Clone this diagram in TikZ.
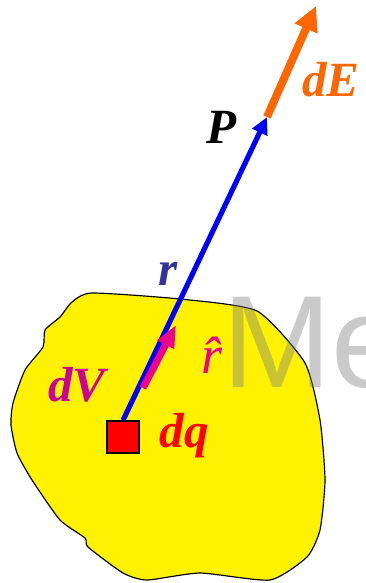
\documentclass[tikz,border=0pt]{standalone}
\usepackage{fontspec}
\setmainfont{Liberation Serif}
\newfontfamily\wmfont{Liberation Sans}
\usetikzlibrary{arrows.meta}
\definecolor{fieldorange}{RGB}{255,102,0}
\definecolor{rnavy}{RGB}{51,51,153}
\definecolor{volpurple}{RGB}{204,0,153}

\begin{document}
\begin{tikzpicture}[x=0.03cm,y=-0.03cm,
 lbl/.style={font=\fontsize{42}{42}\selectfont\bfseries\itshape,inner sep=0pt},
 charge/.style={draw=black,line width=1.5pt,fill=red,minimum size=27pt,inner sep=0pt},
 rvec/.style={blue,line width=4.4pt,-{Triangle[length=14.5pt,width=13.6pt]}},
 evec/.style={fieldorange,line width=6.8pt,-{Triangle[length=21pt,width=20pt]}},
 unitvec/.style={magenta,line width=6pt,-{Triangle[length=19pt,width=15pt]}}
]
\useasboundingbox (0,0) rectangle (366,583);
% charged body
\draw[black,line width=1pt,fill=yellow] plot[smooth cycle,tension=0.35] coordinates {
 (92,293) (180,299) (257,311) (305,363) (320,420) (325,480) (320,530) (307,557)
 (270,580) (200,573) (147,580) (123,573) (88,547) (85,538) (60,520) (32,480)
 (17,453) (11,425) (13,403) (25,370) (43,347) (45,330) (60,317) (72,302)};
% watermark
\node[anchor=base west,inner sep=0pt,text=gray,opacity=0.42,font=\wmfont\fontsize{112}{112}\selectfont] (wm) at (222,387) {Me};
% vectors
\node[charge] (sq) at (123,437) {};
\coordinate (P) at (267,117);
\coordinate (Etip) at (316,6);
\coordinate (rbase) at (143,388);
\coordinate (rtip) at (176,325);
\draw[rvec] (sq.north) -- (P);
\draw[evec] (P) -- (Etip);
\draw[unitvec] (rbase) -- (rtip);
% labels
\node[lbl] (lP) at (222,127) {P};
\node[lbl,text=fieldorange] (ldE) at (331,80) {dE};
\node[lbl,text=rnavy] (lr) at (168,274) {r};
\node[lbl,text=volpurple] (ldV) at (77,385) {dV};
\node[lbl,text=red] (ldq) at (184,436) {dq};
\node[inner sep=0pt,text=magenta,font=\fontsize{46}{46}\selectfont\itshape] (lrhat) at (212,355) {\^{r}};
\end{tikzpicture}
\end{document}
